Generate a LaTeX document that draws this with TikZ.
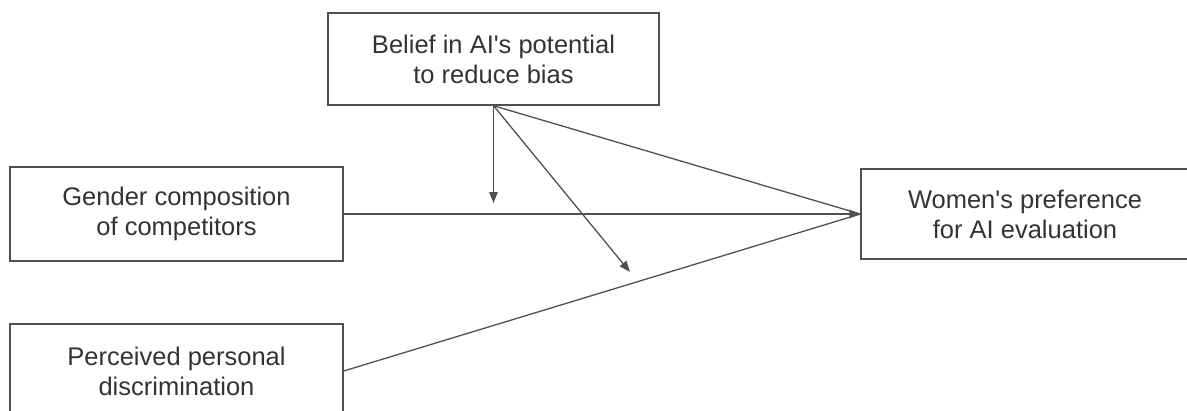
\documentclass[tikz,border=0pt]{standalone}
\usepackage{fontspec}
\setmainfont{Liberation Sans}
\usetikzlibrary{arrows.meta}

\definecolor{boxline}{HTML}{505050}
\definecolor{textgray}{HTML}{333333}
\tikzset{
  varbox/.style={draw=boxline, line width=1.4pt, minimum width=333pt, minimum height=94pt,
    inner sep=0pt, align=center, text=textgray, font=\fontsize{25.5}{30}\selectfont},
  link/.style={draw=boxline, line width=1.3pt},
  head/.style={-{Triangle[length=11pt,width=8.5pt]}}
}

\begin{document}
\begin{tikzpicture}[x=1pt,y=-1pt]
				\clip (0,0) rectangle (1187,410);
				
				\node[varbox, minimum width=331pt, minimum height=92pt] (belief) at (493.5,59) {Belief in AI\textquotesingle s potential\\to reduce bias};
				\node[varbox] (gender) at (176.5,214) {Gender composition\\of competitors};
				\node[varbox] (perceived) at (176.5,371) {Perceived personal\\discrimination};
				\node[varbox, minimum width=328pt, minimum height=90pt] (pref) at (1025,214) {Women\textquotesingle s preference\\for AI evaluation};
				
				\coordinate (modA) at (493.5,203);
				\coordinate (modB) at (630,272);
				
				\draw[link, head] (gender.east) -- (pref.west);
				\draw[link] (perceived.east) -- (pref.west);
				\draw[link] (belief.south) -- (pref.west);
				
				\draw[link, head] (belief.south) -- (modA);
				\draw[link, head] (belief.south) -- (modB);
			\end{tikzpicture}
\end{document}
